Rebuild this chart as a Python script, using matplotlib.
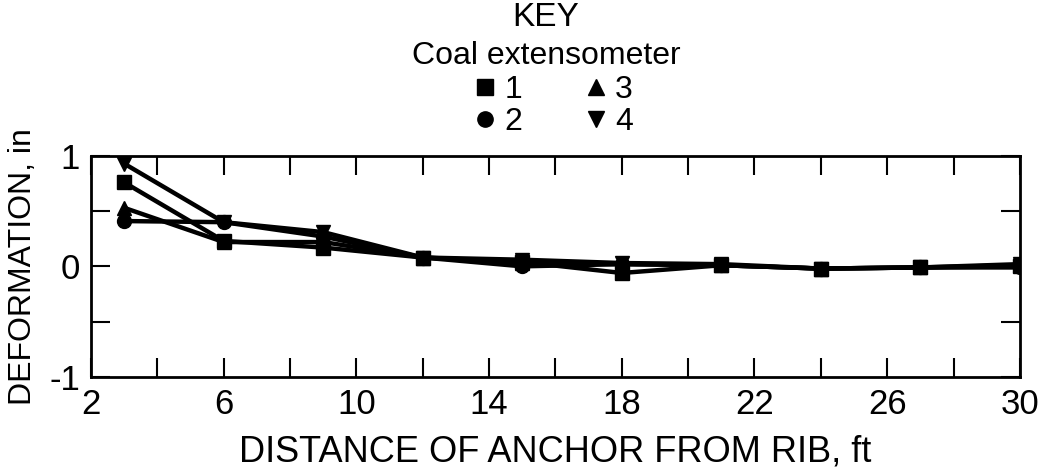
import matplotlib.pyplot as plt
from matplotlib.ticker import FixedLocator, MultipleLocator

plt.rcParams['font.family'] = ['Liberation Sans', 'DejaVu Sans']
plt.rcParams['axes.unicode_minus'] = False

distance = [3, 6, 9, 12, 15, 18, 21, 24, 27, 30]
ext1 = [0.76, 0.23, 0.17, 0.08, 0.04, -0.06, 0.01, -0.02, -0.01, 0.00]
ext2 = [0.41, 0.40, 0.27, 0.08, 0.00, 0.02, 0.01, -0.02, -0.01, -0.01]
ext3 = [0.53, 0.22, 0.22, 0.08, 0.03, 0.02, 0.01, -0.02, -0.01, 0.01]
ext4 = [0.93, 0.40, 0.31, 0.08, 0.06, 0.03, 0.02, -0.02, -0.01, 0.02]

x_ticks = [2, 6, 10, 14, 18, 22, 26, 30]
x_minor = [4, 8, 12, 16, 20, 24, 28]

series = [("1", ext1, "s"), ("2", ext2, "o"), ("3", ext3, "^"), ("4", ext4, "v")]

fig = plt.figure(figsize=(10.46, 4.71), dpi=100)
ax = fig.add_axes([0.087, 0.2, 0.888, 0.469])

for name, vals, m in series:
    ax.plot(distance, vals, color="black", lw=3.2, marker=m, markersize=10,
            label=name)

ax.set_xlim(2, 30)
ax.set_ylim(-1, 1)
ax.xaxis.set_major_locator(FixedLocator(x_ticks))
ax.xaxis.set_minor_locator(FixedLocator(x_minor))
ax.yaxis.set_major_locator(MultipleLocator(1))
ax.yaxis.set_minor_locator(MultipleLocator(0.5))
ax.tick_params(which="both", direction="in", top=True, right=True, width=1.5)
ax.tick_params(which="major", length=14, labelsize=25, pad=8)
ax.tick_params(which="minor", length=14)
for s in ax.spines.values():
    s.set_linewidth(2)

ax.set_xlabel("DISTANCE OF ANCHOR FROM RIB, ft", fontsize=26, labelpad=10)
ax.set_ylabel("DEFORMATION, in", fontsize=23, labelpad=8)

fig.text(0.522, 0.962, "KEY", ha="center", va="center", fontsize=24)
fig.text(0.522, 0.882, "Coal extensometer", ha="center", va="center", fontsize=23)

handles = [plt.Line2D([], [], color="black", ls="none", marker=m, markersize=11)
           for _, _, m in series]
leg = fig.legend(handles, [s[0] for s in series], ncol=2, loc="center",
                 bbox_to_anchor=(0.53, 0.775), frameon=False, fontsize=23,
                 handlelength=0.6, handletextpad=0.3, columnspacing=2.0,
                 labelspacing=0.05, borderpad=0)

fig.savefig("out.png", dpi=100)
